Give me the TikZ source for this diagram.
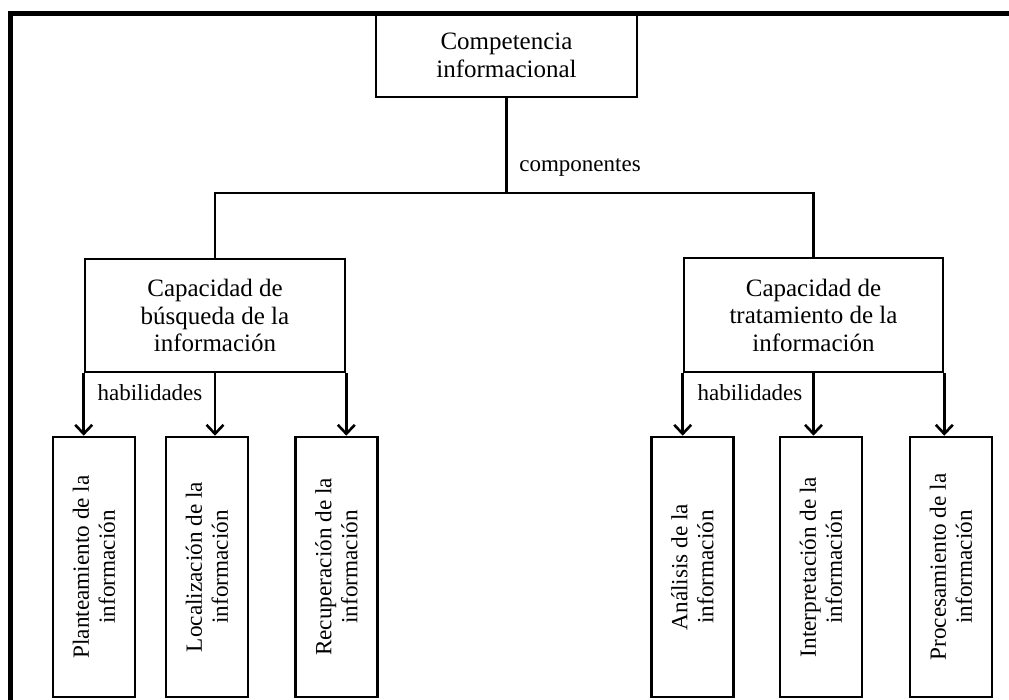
\documentclass[tikz,border=0pt]{standalone}
\usepackage{fontspec}
\setmainfont{Liberation Serif}
\usetikzlibrary{arrows.meta}
\begin{document}
\begin{tikzpicture}[x=1pt,y=-1pt,
  box/.style={draw=black,line width=2.6pt,fill=white,inner sep=0pt,align=center,
    font=\fontsize{25}{27.5}\selectfont},
  vbox/.style={box,rotate=90,minimum width=260pt,minimum height=82pt,
    font=\fontsize{23.2}{26}\selectfont},
  conn/.style={line width=2.6pt},
  arr/.style={conn,-{Straight Barb[length=9pt,width=17pt,line width=2.6pt]}},
  lbl/.style={inner sep=0pt,font=\fontsize{23}{26}\selectfont}]
\useasboundingbox (0,0) rectangle (1009,700);
% frame
\draw[line width=5pt] (10.5,700) -- (10.5,13.5) -- (1009,13.5);
% nodes
\node[box,minimum width=261pt,minimum height=83pt] (top) at (506.5,55.5) {Competencia\\informacional};
\draw[line width=5pt] (10.5,13.5) -- (1009,13.5);
\node[box,minimum width=260pt,minimum height=113pt] (lb) at (215,315.5) {Capacidad de\\búsqueda de la\\información};
\node[box,minimum width=259pt,minimum height=114pt] (rb) at (813.5,315) {Capacidad de\\tratamiento de la\\información};
\node[vbox] (b1) at (94,567) {Planteamiento de la\\información};
\node[vbox] (b2) at (207,567) {Localización de la\\información};
\node[vbox] (b3) at (336.5,567) {Recuperación de la\\información};
\node[vbox] (b4) at (692.5,567) {Análisis de la\\información};
\node[vbox] (b5) at (821,567) {Interpretación de la\\información};
\node[vbox] (b6) at (951,567) {Procesamiento de la\\información};
% labels
\node[lbl] (comp) at (580,167) {componentes};
\node[lbl] (hab1) at (150,393) {habilidades};
\node[lbl] (hab2) at (750,393) {habilidades};
% connectors
\coordinate (j) at (506.5,193);
\draw[conn] (top.south) -- (j);
\draw[conn] (lb.north) |- (j) -| (rb.north);
\draw[arr] (lb.south west) -- (lb.south west |- b1.east);
\draw[arr] (lb.south) -- (lb.south |- b2.east);
\draw[arr] (lb.south east) -- (lb.south east |- b3.east);
\draw[arr] (rb.south west) -- (rb.south west |- b4.east);
\draw[arr] (rb.south) -- (rb.south |- b5.east);
\draw[arr] (rb.south east) -- (rb.south east |- b6.east);
\end{tikzpicture}
\end{document}
